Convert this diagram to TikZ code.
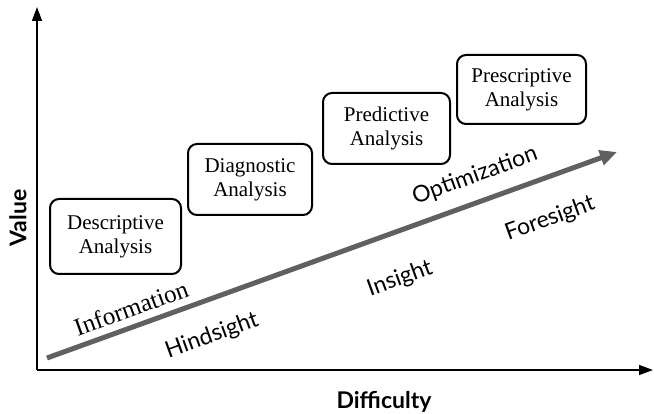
\documentclass[tikz,border=0pt]{standalone}
\usepackage{fontspec}
\setmainfont{Liberation Serif}
\newfontfamily\calfont{Lato}
\usetikzlibrary{arrows.meta,positioning}
\definecolor{trendgray}{RGB}{96,96,96}

\begin{document}
\begin{tikzpicture}[x=1pt,y=-1pt,>={Triangle[length=14pt,width=10pt]}]
  \useasboundingbox (0,0) rectangle (654,414);
  \tikzset{stage/.style={draw,line width=2pt,rounded corners=9pt,align=center,
      minimum width=127pt,minimum height=71pt,inner sep=2pt,
      font=\rmfamily\fontsize{21}{24}\selectfont},
    trend/.style={font=\calfont\fontsize{23}{28}\selectfont,rotate=20,inner sep=0pt},
    axislabel/.style={font=\calfont\bfseries\fontsize{23}{28}\selectfont,inner sep=0pt}}
  % axes
  \coordinate (o) at (37,370);
  \coordinate (ytop) at (37,7);
  \coordinate (xend) at (653,370);
  \draw[line width=1.5pt,->] (o) -- (ytop);
  \draw[line width=1.5pt,->] (o) -- (xend);
  \node[axislabel,rotate=90] (val) at (18,218) {Value};
  \node[axislabel] (diff) at (384,402) {Difficulty};
  % trend arrow
  \coordinate (gs) at (47,358);
  \coordinate (ge) at (617,152);
  \draw[line width=5pt,trendgray,-{Triangle[length=17pt,width=15pt]}] (gs) -- (ge);
  % stages
  \node[stage,minimum width=131pt,minimum height=75pt] (desc) at (115.5,236.5) {Descriptive\\
  Analysis};
  \node[stage,minimum width=124pt] (diag) at (250,179.5) {Diagnostic\\
  Analysis};
  \node[stage] (pred) at (386.5,128.5) {Predictive\\
  Analysis};
  \node[stage,minimum width=129pt,minimum height=69pt] (presc) at (521.5,89.5) {Prescriptive\\
  Analysis};
  % labels along the arrow
  \node[trend,font=\rmfamily\fontsize{25}{28}\selectfont] (info) at (131,308) {Information};
  \node[trend] (hind) at (212,336) {Hindsight};
  \node[trend] (ins) at (400,279) {Insight};
  \node[trend] (fore) at (550,219) {Foresight};
  \node[trend] (opt) at (475,176) {Optimization};
\end{tikzpicture}
\end{document}
